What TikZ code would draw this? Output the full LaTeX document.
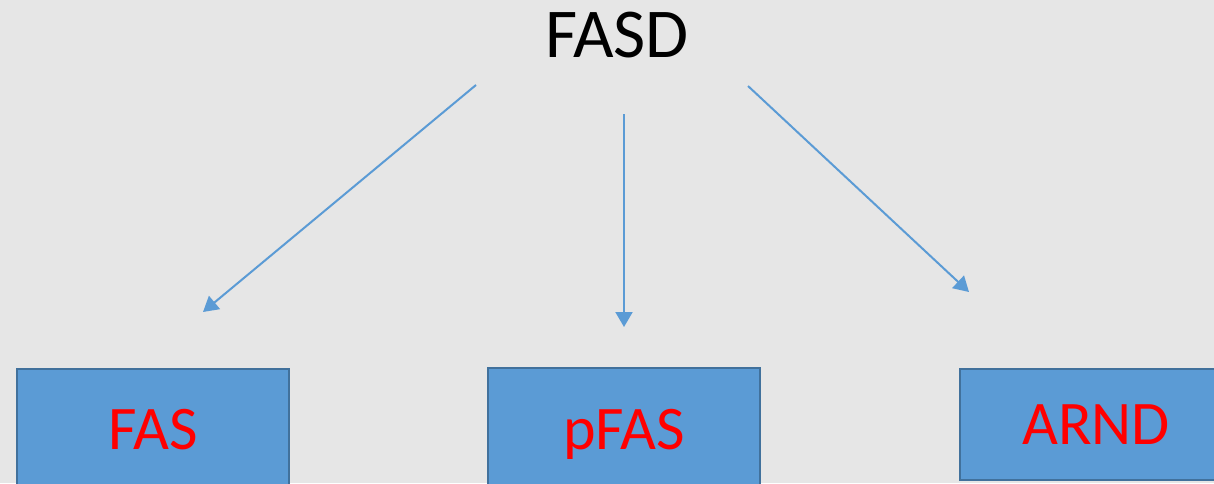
\documentclass[tikz,border=0pt]{standalone}
\usepackage{fontspec}
\setsansfont{Carlito}
\usepackage{xcolor}
\usetikzlibrary{arrows.meta}

\definecolor{bgGray}{HTML}{E6E6E6}
\definecolor{boxBlue}{HTML}{5B9BD5}
\definecolor{boxEdge}{HTML}{41719C}

\begin{document}
\begin{tikzpicture}[x=0.5pt,y=-0.5pt,
       title/.style={font=\sffamily\fontsize{35}{40}\selectfont,text height=22.5pt,text depth=0pt,inner sep=0pt},
       box/.style={draw=boxEdge,fill=boxBlue,line width=1pt,minimum width=136pt,anchor=north,
                   text=red,font=\sffamily\fontsize{31}{36}\selectfont,text height=20pt,text depth=0pt,inner sep=0pt},
       link/.style={-{Triangle[length=7.5pt,width=8.5pt]},draw=boxBlue,line width=1pt}]
       \fill[bgGray] (0,0) rectangle (1214,483);
       \clip (0,0) rectangle (1214,483);

       \node[title] (fasd) at (617,34.5) {FASD};

       \node[box,minimum height=60pt] (fas) at (153,368) {FAS};
       \node[box,minimum height=61pt] (pfas) at (624,367) {pFAS};
       \node[box,minimum height=55.5pt] (arnd) at (1096,368) {ARND};

       \coordinate (s1) at (476,85);
       \coordinate (s2) at (624,114);
       \coordinate (s3) at (748,86);
       \coordinate (e1) at (203,312);
       \coordinate (e2) at (624,327);
       \coordinate (e3) at (969,292);

       \draw[link] (s1) -- (e1);
       \draw[link] (s2) -- (e2);
       \draw[link] (s3) -- (e3);
   \end{tikzpicture}
\end{document}
